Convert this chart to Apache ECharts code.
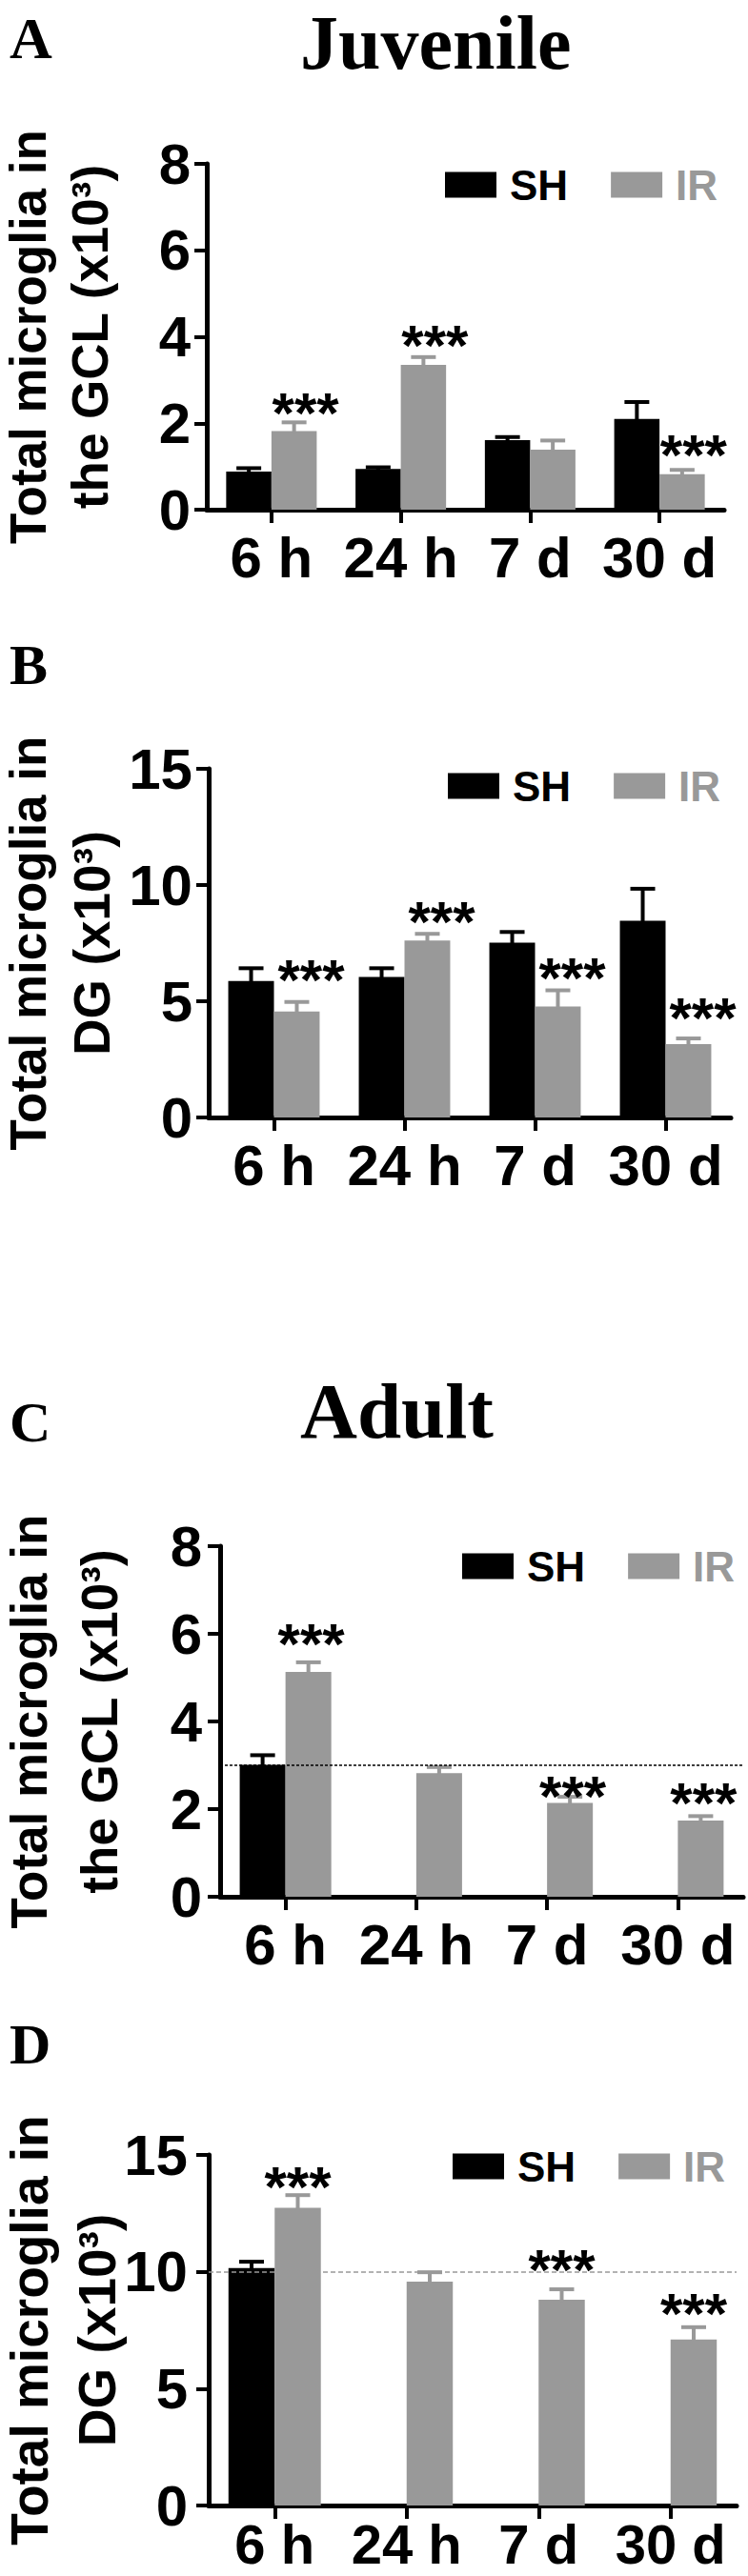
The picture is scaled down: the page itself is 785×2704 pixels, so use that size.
<!DOCTYPE html>
<html><head><meta charset="utf-8">
<script src="https://cdn.jsdelivr.net/npm/echarts@6/dist/echarts.min.js"></script>
<style>html,body{margin:0;padding:0;background:#fff}#c{width:785px;height:2704px}</style>
</head><body><div id="c"></div>
<script>
// ---------- data ----------
const categories = ['6 h', '24 h', '7 d', '30 d'];
const seriesNames = ['SH', 'IR'];

// A: Juvenile, GCL (x10^3)
const juvGclSH    = [0.88, 0.94, 1.61, 2.10];
const juvGclSHErr = [0.08, 0.04, 0.07, 0.39];
const juvGclIR    = [1.82, 3.35, 1.39, 0.82];
const juvGclIRErr = [0.20, 0.18, 0.21, 0.10];
const juvGclStars = [2.55, 4.10, null, 1.57];

// B: Juvenile, DG (x10^3)
const juvDgSH    = [5.87, 6.04, 7.52, 8.46];
const juvDgSHErr = [0.55, 0.38, 0.46, 1.38];
const juvDgIR    = [4.56, 7.61, 4.77, 3.16];
const juvDgIRErr = [0.41, 0.29, 0.70, 0.24];
const juvDgStars = [6.47, 8.98, 6.55, 4.85];

// C: Adult, GCL (x10^3)
const adGclSH    = [3.01, null, null, null];
const adGclSHErr = [0.22, null, null, null];
const adGclIR    = [5.13, 2.82, 2.14, 1.74];
const adGclIRErr = [0.22, 0.14, 0.14, 0.10];
const adGclStars = [6.07, null, 2.59, 2.45];
const adGclRef   = [3];

// D: Adult, DG (x10^3)
const adDgSH    = [10.16, null, null, null];
const adDgSHErr = [0.27, null, null, null];
const adDgIR    = [12.74, 9.58, 8.80, 7.10];
const adDgIRErr = [0.54, 0.40, 0.45, 0.53];
const adDgStars = [14.19, null, 10.66, 8.77];
const adDgRef   = [10];

// axis ticks: min, max, interval
const yTicksGcl = [0, 8, 2];
const yTicksDg  = [0, 15, 5];

const yNameGcl = 'Total microglia in\nthe GCL (x10³)';
const yNameDg  = 'Total microglia in\nDG (x10³)';

// ---------- styling / layout ----------
const BLACK = '#000000';
const GREY = '#999999';
const NARROW = '"Liberation Sans Narrow", "Liberation Sans", Arial, sans-serif';
const SANS = '"Liberation Sans", Arial, sans-serif';
const SERIF = '"Liberation Serif", "Times New Roman", serif';

const panels = [
  {sh: juvGclSH, shErr: juvGclSHErr, ir: juvGclIR, irErr: juvGclIRErr, stars: juvGclStars, ref: null, ticks: yTicksGcl, name: yNameGcl,
   grid: {left: 217, top: 172, width: 543, height: 363}, labelMargin: 17, nameGap: 90, nameSize: 53, nameLH: 65,
   xMargin: 20, xSize: 60, legend: {left: 467, top: 172}, starShift: 12, refStyle: null},
  {sh: juvDgSH, shErr: juvDgSHErr, ir: juvDgIR, irErr: juvDgIRErr, stars: juvDgStars, ref: null, ticks: yTicksDg, name: yNameDg,
   grid: {left: 219, top: 807, width: 548, height: 366}, labelMargin: 17, nameGap: 89, nameSize: 53, nameLH: 67,
   xMargin: 20, xSize: 60, legend: {left: 470, top: 803}, starShift: 15, refStyle: null},
  {sh: adGclSH, shErr: adGclSHErr, ir: adGclIR, irErr: adGclIRErr, stars: adGclStars, ref: adGclRef, ticks: yTicksGcl, name: yNameGcl,
   grid: {left: 231, top: 1623, width: 549, height: 368}, labelMargin: 19, nameGap: 90, nameSize: 53, nameLH: 74,
   xMargin: 20, xSize: 60, legend: {left: 485, top: 1622}, starShift: 3,
   refStyle: {color: '#000', width: 1.5, type: [3, 2]}},
  {sh: adDgSH, shErr: adDgSHErr, ir: adDgIR, irErr: adDgIRErr, stars: adDgStars, ref: adDgRef, ticks: yTicksDg, name: yNameDg,
   grid: {left: 219, top: 2262, width: 554, height: 368}, labelMargin: 22, nameGap: 82, nameSize: 55, nameLH: 71,
   xMargin: 11, xSize: 58, legend: {left: 475, top: 2252}, starShift: 0,
   refStyle: {color: '#999', width: 1.5, type: [5, 3]}}
];

const CAT_GAP = 0.30;           // barCategoryGap
const HALF = (1 - CAT_GAP) / 2; // each bar's share of the band

function errorSeries(gi, vals, errs, side, color) {
  const data = [];
  vals.forEach((v, i) => { if (v != null && errs[i] != null) data.push([i, v, errs[i]]); });
  return {
    type: 'custom', name: 'err' + gi + side, xAxisIndex: gi, yAxisIndex: gi, silent: true, z: 3,
    encode: {x: 0, y: 1}, data,
    renderItem: (params, api) => {
      const i = api.value(0), v = api.value(1), e = api.value(2);
      const p0 = api.coord([i, v]), p1 = api.coord([i, v + e]);
      const bw = api.size([1, 0])[0] * HALF;
      const cx = p0[0] + side * bw / 2;
      return {type: 'group', children: [
        {type: 'line', shape: {x1: cx, y1: p0[1] + 2, x2: cx, y2: p1[1]}, style: {stroke: color, lineWidth: 4}},
        {type: 'line', shape: {x1: cx - 13, y1: p1[1], x2: cx + 13, y2: p1[1]}, style: {stroke: color, lineWidth: 4}}
      ]};
    }
  };
}

function starSeries(gi, stars, shift) {
  const data = [];
  stars.forEach((y, i) => { if (y != null) data.push([i, y]); });
  const F = 60;
  return {
    type: 'custom', name: 'stars' + gi, xAxisIndex: gi, yAxisIndex: gi, silent: true, z: 4,
    encode: {x: 0, y: 1}, data,
    renderItem: (params, api) => {
      const p = api.coord([api.value(0), api.value(1)]);
      const bw = api.size([1, 0])[0] * HALF;
      return {type: 'text', x: p[0] + bw / 2 + shift, y: p[1] + 0.23 * F,
        style: {text: '***', font: 'bold ' + F + 'px ' + SANS, fill: BLACK,
          align: 'center', verticalAlign: 'middle', textAlign: 'center', textVerticalAlign: 'middle'}};
    }
  };
}

const grids = [], xAxes = [], yAxes = [], series = [], legends = [];
panels.forEach((p, gi) => {
  grids.push(Object.assign({outerBoundsMode: 'none', containLabel: false}, p.grid));
  xAxes.push({
    type: 'category', gridIndex: gi, data: categories,
    axisLine: {show: true, lineStyle: {color: BLACK, width: 5}},
    axisTick: {show: true, alignWithLabel: true, interval: 0, length: 14, lineStyle: {color: BLACK, width: 4}},
    axisLabel: {interval: 0, hideOverlap: false, margin: p.xMargin, fontSize: p.xSize, fontWeight: 'bold', fontFamily: NARROW, color: BLACK},
    splitLine: {show: false}
  });
  yAxes.push({
    type: 'value', gridIndex: gi, min: p.ticks[0], max: p.ticks[1], interval: p.ticks[2],
    name: p.name, nameLocation: 'middle', nameRotate: 90, nameGap: p.nameGap, nameMoveOverlap: false,
    nameTextStyle: {fontSize: p.nameSize, fontWeight: 'bold', fontFamily: SANS, color: BLACK, lineHeight: p.nameLH},
    axisLine: {show: true, lineStyle: {color: BLACK, width: 5}},
    axisTick: {show: true, length: 13, lineStyle: {color: BLACK, width: 4}},
    axisLabel: {margin: p.labelMargin, fontSize: 60, fontWeight: 'bold', fontFamily: NARROW, color: BLACK, showMinLabel: true, showMaxLabel: true},
    splitLine: {show: false}
  });
  series.push({
    type: 'bar', name: 'SH', xAxisIndex: gi, yAxisIndex: gi, data: p.sh,
    barGap: '0%', barCategoryGap: (CAT_GAP * 100) + '%', itemStyle: {color: BLACK}, silent: true, z: 2
  });
  const ir = {
    type: 'bar', name: 'IR', xAxisIndex: gi, yAxisIndex: gi, data: p.ir,
    barGap: '0%', barCategoryGap: (CAT_GAP * 100) + '%', itemStyle: {color: GREY}, silent: true, z: 2
  };
  if (p.ref) {
    ir.markLine = {silent: true, symbol: 'none', label: {show: false}, animation: false,
      lineStyle: p.refStyle, data: p.ref.map(v => ({yAxis: v}))};
  }
  series.push(ir);
  series.push(errorSeries(gi, p.sh, p.shErr, -1, BLACK));
  series.push(errorSeries(gi, p.ir, p.irErr, 1, GREY));
  series.push(starSeries(gi, p.stars, p.starShift));
  legends.push({
    left: p.legend.left, top: p.legend.top, orient: 'horizontal', padding: 0,
    itemWidth: 54, itemHeight: 27, itemGap: 45, icon: 'rect', selectedMode: false,
    textStyle: {fontSize: 44, fontWeight: 'bold', fontFamily: SANS, color: BLACK, padding: [0, 0, 0, 9]},
    data: [{name: 'SH'}, {name: 'IR', textStyle: {color: GREY}}]
  });
});

function label(text, x, y, size) {
  return {type: 'text', x, y, silent: true,
    style: {text, font: 'bold ' + size + 'px ' + SERIF, fill: BLACK, lineHeight: Math.round(size * 0.68),
      align: 'left', verticalAlign: 'middle', textAlign: 'left', textVerticalAlign: 'middle'}};
}

const chart = echarts.init(document.getElementById('c'), null, {renderer: 'svg', width: 785, height: 2704});
chart.setOption({
  animation: false,
  backgroundColor: '#ffffff',
  grid: grids, xAxis: xAxes, yAxis: yAxes, series, legend: legends,
  graphic: [
    label('A', 10, 40, 62), label('Juvenile', 315, 45, 80),
    label('B', 10, 698, 60),
    label('C', 10, 1493, 60), label('Adult', 315, 1481, 83),
    label('D', 10, 2146, 60)
  ]
});
</script></body></html>
